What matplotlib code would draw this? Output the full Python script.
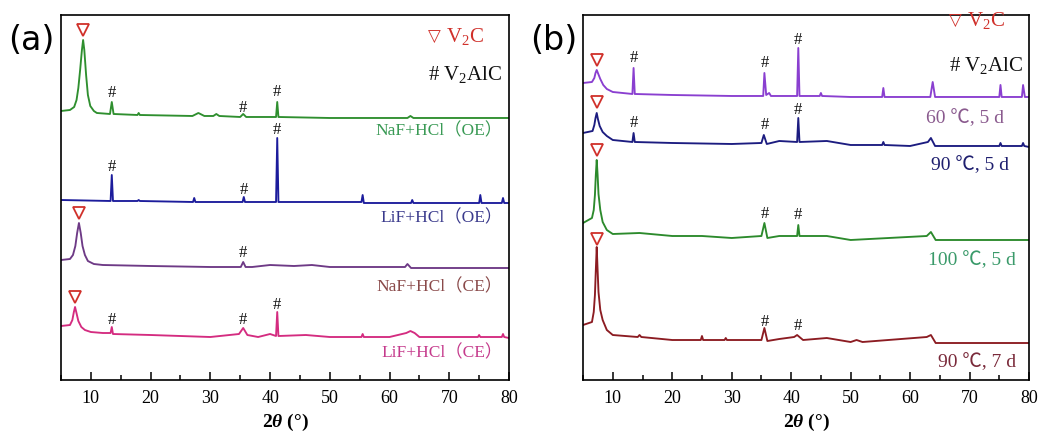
"""XRD patterns of V2C MXene: (a) etchant comparison, (b) etching temperature/time."""

import matplotlib
matplotlib.use("Agg")
import matplotlib.pyplot as plt
from matplotlib.ticker import MultipleLocator

plt.rcParams["font.family"] = ["Liberation Serif", "Noto Sans CJK SC", "DejaVu Sans"]
plt.rcParams["mathtext.fontset"] = "custom"
plt.rcParams["mathtext.rm"] = "Liberation Serif"
plt.rcParams["mathtext.it"] = "Liberation Serif:italic"
plt.rcParams["mathtext.bf"] = "Liberation Serif:bold"
plt.rcParams["mathtext.bfit"] = "Liberation Serif:bold:italic"

# ---- panel (a): stacked intensities (a.u.) ----
a_naf_oe_x = [5, 6.5, 7.2, 7.6, 7.9, 8.2, 8.5, 8.7, 8.9, 9.2, 9.5, 9.9, 10.5, 11, 13.2, 13.5, 13.8,
              17.8, 18, 18.2, 27, 28, 29, 30.5, 31, 31.5, 35, 35.5, 36, 38, 41.0, 41.2, 41.4, 50,
              63, 63.5, 64, 75, 80]
a_naf_oe_y = [269, 270, 273, 280, 292, 310, 330, 340, 330, 305, 285, 274, 269, 267, 266, 278, 266,
              265, 267, 265, 264, 267, 264, 264, 266, 264, 263, 266, 263, 263, 263, 278, 263, 262,
              262, 264, 262, 262, 262]

a_lif_oe_x = [5, 13.3, 13.5, 13.7, 17.8, 18, 18.2, 27.1, 27.3, 27.5, 35.4, 35.6, 35.8, 41.0, 41.2, 41.4,
              55.3, 55.5, 55.7, 63.6, 63.8, 64, 75.0, 75.2, 75.4, 78.8, 79, 79.2, 80]
a_lif_oe_y = [180, 179, 205, 179, 179, 180, 179, 178, 182, 178, 178, 183, 178, 178, 242, 178,
              178, 185, 177, 177, 180, 177, 177, 185, 177, 177, 182, 177, 177]

a_naf_ce_x = [5, 6.5, 7.0, 7.4, 7.7, 8.0, 8.3, 8.6, 9.0, 9.5, 10.5, 12, 20, 30, 35.1, 35.5, 35.9, 37,
              40, 44, 47, 50, 62.6, 63.0, 63.6, 70, 80]
a_naf_ce_y = [120, 121, 125, 134, 147, 157, 147, 134, 125, 119, 116, 115, 114, 113, 113, 118, 113, 113,
              115, 114, 115, 113, 113, 116, 112, 112, 112]

a_lif_ce_x = [5, 6.5, 6.9, 7.15, 7.35, 7.55, 7.9, 8.4, 9, 10, 12, 13.3, 13.5, 13.7, 20, 30, 34.8, 35.5,
              36.2, 38, 40, 41.0, 41.2, 41.4, 46, 50, 55.3, 55.5, 55.7, 60, 62.8, 63.5, 64.2, 65,
              74.8, 75, 75.2, 78.8, 79, 79.2, 80]
a_lif_ce_y = [54, 55, 60, 68, 73, 68, 59, 53, 50, 48, 47, 47, 53, 46, 45, 43, 46, 52,
              45, 43, 46, 44, 68, 44, 45, 43, 43, 46, 43, 43, 47, 49, 47, 43,
              43, 45, 43, 43, 46, 43, 42]

a_labels = ["NaF+HCl（OE）", "LiF+HCl（OE）", "NaF+HCl（CE）", "LiF+HCl（CE）"]

# peak markers: (2theta, height) for V2C (triangle) and V2AlC (#)
a_v2c_x = [8.7, 8.0, 7.4]
a_v2c_y = [350, 167, 83]
a_hash_x = [13.5, 35.5, 41.2, 13.5, 35.6, 41.2, 35.5, 13.5, 35.5, 41.2]
a_hash_y = [287, 272, 288, 213, 190, 250, 127, 60, 60, 75]

# ---- panel (b) ----
b_60_5_x = [5, 6.5, 6.9, 7.1, 7.3, 7.5, 7.9, 8.4, 9, 10, 13.3, 13.5, 13.7, 20, 30, 35.3, 35.5, 35.8,
            36.3, 36.6, 41.0, 41.2, 41.4, 44.8, 45, 45.2, 50, 55.3, 55.5, 55.7, 63.4, 63.8, 64.2,
            75.0, 75.2, 75.4, 78.8, 79.0, 79.3, 80]
b_60_5_y = [297, 298, 302, 307, 310, 307, 301, 295, 291, 288, 286, 312, 286, 285, 284, 284, 307, 285,
            287, 284, 284, 332, 284, 284, 287, 284, 283, 283, 292, 283, 283, 298, 283,
            283, 295, 283, 283, 295, 283, 283]

b_90_5_x = [5, 6.6, 6.9, 7.1, 7.3, 7.5, 7.8, 8.3, 9, 10, 13.3, 13.5, 13.7, 20, 30, 35.0, 35.4, 35.9,
            38, 41.0, 41.2, 41.4, 46, 50, 55.3, 55.5, 55.7, 60, 63.0, 63.5, 64.2, 75.0, 75.2, 75.4,
            78.8, 79, 79.2, 80]
b_90_5_y = [247, 249, 255, 262, 267, 261, 254, 248, 244, 240, 238, 247, 238, 237, 236, 237, 245, 236,
            239, 238, 262, 238, 239, 235, 235, 238, 235, 234, 238, 242, 234, 234, 237, 234,
            234, 237, 234, 233]

b_100_5_x = [5, 6.5, 6.8, 7.0, 7.15, 7.3, 7.45, 7.6, 7.9, 8.3, 9, 10, 14.5, 20, 25, 30, 35.0, 35.5,
             36.0, 38, 41.0, 41.2, 41.4, 46, 50, 62.8, 63.5, 64.3, 70, 80]
b_100_5_y = [157, 162, 170, 185, 205, 220, 205, 186, 170, 158, 150, 146, 147, 144, 144, 142, 144, 157,
             142, 144, 144, 155, 144, 144, 140, 144, 148, 140, 140, 140]

b_90_7_x = [5, 6.5, 6.8, 7.0, 7.15, 7.3, 7.45, 7.6, 7.9, 8.3, 9, 10, 14.2, 14.5, 14.8, 20, 24.8, 25,
            25.2, 28.8, 29, 29.2, 35.0, 35.5, 36.0, 38, 40.5, 41, 42, 46, 50, 51, 52, 62.8, 63.5,
            64.3, 80]
b_90_7_y = [55, 58, 68, 85, 110, 133, 110, 88, 70, 60, 50, 45, 43, 45, 43, 40, 40, 44,
            40, 40, 42, 40, 40, 52, 39, 41, 43, 45, 40, 42, 38, 40, 38, 43, 45,
            37, 37]

b_labels = ["60 ℃, 5 d", "90 ℃, 5 d", "100 ℃, 5 d", "90 ℃, 7 d"]

b_v2c_x = [7.3, 7.3, 7.3, 7.3]
b_v2c_y = [320, 278, 230, 141]
b_hash_x = [13.5, 35.5, 41.2, 13.5, 35.5, 41.2, 35.5, 41.2, 35.5, 41.2]
b_hash_y = [322, 317, 340, 257, 255, 270, 166, 165, 58, 54]

SERIF = ["Liberation Serif", "Noto Sans CJK SC", "DejaVu Sans"]


def style_axes(ax, letter):
    ax.set_xlim(5, 80)
    ax.set_ylim(0, 365)
    ax.set_yticks([])
    ax.xaxis.set_major_locator(MultipleLocator(10))
    ax.xaxis.set_minor_locator(MultipleLocator(5))
    ax.tick_params(axis="x", which="major", direction="in", length=6, width=1.1,
                   labelsize=13, pad=7, top=False)
    ax.tick_params(axis="x", which="minor", direction="in", length=3.5, width=1.1, top=False)
    for sp in ax.spines.values():
        sp.set_linewidth(1.2)
    ax.set_xlabel(r"2$\mathbfit{\theta}$ (°)", fontsize=14, fontweight="bold", labelpad=4)
    ax.text(-0.118, 0.93, letter, transform=ax.transAxes, fontsize=24,
            family=["DejaVu Sans"], ha="left", va="center")


def marks(ax, tx, ty, hx, hy):
    ax.plot(tx, ty, ls="none", marker="v", ms=9, mfc="none", mec="#d0302a", mew=1.3)
    for x, y in zip(hx, hy):
        ax.text(x, y, "#", ha="center", va="center", fontsize=12, color="#111111")


def legend_text(ax, x, y1, y2):
    ax.text(x, y1, "▽", transform=ax.transAxes, fontsize=12, color="#d0302a",
            family=["DejaVu Sans"], ha="left", va="center")
    ax.text(x + 0.04, y1, r"V$_{\mathregular{2}}$C", transform=ax.transAxes, fontsize=15,
            color="#d0302a", ha="left", va="center")
    ax.text(x, y2, r"# V$_{\mathregular{2}}$AlC", transform=ax.transAxes, fontsize=15,
            color="#111111", ha="left", va="center")


fig = plt.figure(figsize=(10.43, 4.38), dpi=100)
ax_a = fig.add_axes([0.0585, 0.1324, 0.4295, 0.8334])
ax_b = fig.add_axes([0.559, 0.1324, 0.4276, 0.8334])

# (a)
a_series = [(a_naf_oe_x, a_naf_oe_y, "#2f8f2f", "#3a9a55", 249, 79),
            (a_lif_oe_x, a_lif_oe_y, "#1c1c9c", "#3a3a8c", 162, 79),
            (a_naf_ce_x, a_naf_ce_y, "#6e3a86", "#8a4a4a", 93, 79),
            (a_lif_ce_x, a_lif_ce_y, "#d42c80", "#c53a8c", 27, 79)]
for (x, y, c, lc, ly, lx), lab in zip(a_series, a_labels):
    ax_a.plot(x, y, color=c, lw=1.35)
    ax_a.text(lx, ly, lab, color=lc, fontsize=12.5, ha="right", va="center", family=SERIF)
marks(ax_a, a_v2c_x, a_v2c_y, a_hash_x, a_hash_y)
legend_text(ax_a, 0.82, 0.94, 0.836)
style_axes(ax_a, "(a)")

# (b)
b_series = [(b_60_5_x, b_60_5_y, "#8a3fd0", "#8a5a8e", 262, 75.8),
            (b_90_5_x, b_90_5_y, "#1c1c80", "#1e1e6e", 215, 76.6),
            (b_100_5_x, b_100_5_y, "#2c8a2c", "#3a9a6a", 120, 77.8),
            (b_90_7_x, b_90_7_y, "#8c1c22", "#7a2a3a", 18, 77.8)]
for (x, y, c, lc, ly, lx), lab in zip(b_series, b_labels):
    ax_b.plot(x, y, color=c, lw=1.35)
    ax_b.text(lx, ly, lab, color=lc, fontsize=14, ha="right", va="center", family=SERIF)
marks(ax_b, b_v2c_x, b_v2c_y, b_hash_x, b_hash_y)
legend_text(ax_b, 0.82, 0.985, 0.862)
style_axes(ax_b, "(b)")

fig.savefig("out.png", dpi=100)
